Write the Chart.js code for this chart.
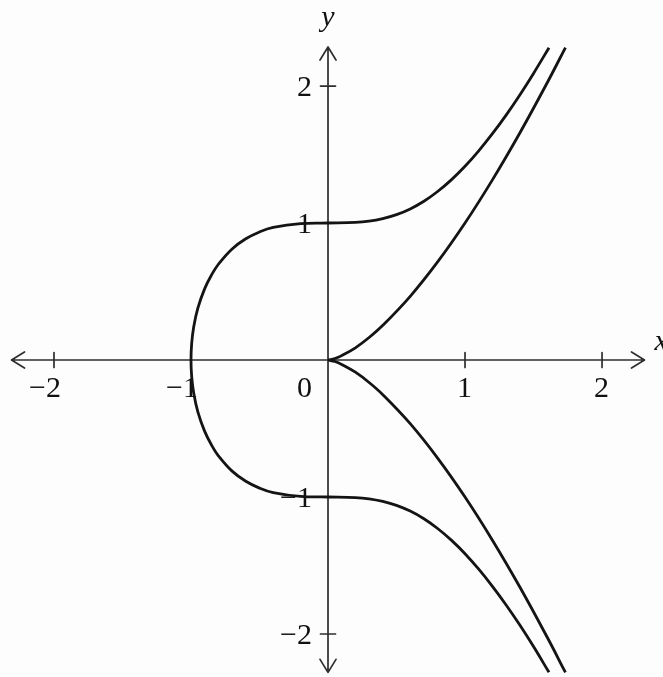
<!DOCTYPE html>
<html>
<head>
<meta charset="utf-8">
<title>Elliptic curves</title>
<script src="https://cdn.jsdelivr.net/npm/chart.js@4.4.1/dist/chart.umd.min.js"></script>
<style>
    html, body { margin: 0; padding: 0; background: #fdfdfd; }
    #chart { display: block; }
</style>
</head>
<body>
<canvas id="chart" width="663" height="677"></canvas>
<script>
// Outer curve through (-1, 0), (0, 1), (0, -1),
// lower branch first (right to left), then the upper branch (left to right)
const outerX = [1.613, 1.5, 1.4, 1.3, 1.2, 1.1, 1.0, 0.9, 0.8, 0.7, 0.6, 0.5, 0.4, 0.3, 0.2, 0.0,
    -0.2, -0.4, -0.5, -0.6, -0.7, -0.8, -0.85, -0.9, -0.95, -0.98, -0.995, -1.0,
    -0.995, -0.98, -0.95, -0.9, -0.85, -0.8, -0.7, -0.6, -0.5, -0.4, -0.2,
    0.0, 0.2, 0.3, 0.4, 0.5, 0.6, 0.7, 0.8, 0.9, 1.0, 1.1, 1.2, 1.3, 1.4, 1.5, 1.613];
const outerY = [-2.280, -2.092, -1.935, -1.788, -1.652, -1.527, -1.414, -1.315, -1.230, -1.159, -1.103, -1.061, -1.032, -1.013, -1.004, -1.000,
    -0.996, -0.968, -0.935, -0.885, -0.811, -0.699, -0.621, -0.521, -0.378, -0.243, -0.122, 0.0,
    0.122, 0.243, 0.378, 0.521, 0.621, 0.699, 0.811, 0.885, 0.935, 0.968, 0.996,
    1.000, 1.004, 1.013, 1.032, 1.061, 1.103, 1.159, 1.230, 1.315, 1.414, 1.527, 1.652, 1.788, 1.935, 2.092, 2.280];

// Curve with the cusp at the origin, one array per branch
const cuspX = [0, 0.05, 0.1, 0.2, 0.3, 0.4, 0.6, 0.8, 1.0, 1.2, 1.4, 1.6, 1.733];
const cuspUpperY = [0, 0.011, 0.032, 0.089, 0.164, 0.253, 0.465, 0.716, 1.0, 1.315, 1.657, 2.024, 2.281];
const cuspLowerY = [0, -0.011, -0.032, -0.089, -0.164, -0.253, -0.465, -0.716, -1.0, -1.315, -1.657, -2.024, -2.281];

// Axis ticks and labels
const xTicks = [-2, -1, 1, 2];
const xTickLabels = ['\u22122', '\u22121', '1', '2'];
const yTicks = [2, 1, -1, -2];
const yTickLabels = ['2', '1', '\u22121', '\u22122'];
const xAxisEnds = [-2.31, 2.31];
const yAxisEnds = [-2.28, 2.285];

const serif = '"Liberation Serif", "Times New Roman", serif';

function toPoints(xs, ys) {
    return xs.map((x, i) => ({ x: x, y: ys[i] }));
}

// Draws the arrowed axes, crossing ticks and the serif labels
const axesPlugin = {
    id: 'arrowAxes',
    beforeDatasetsDraw(chart) {
        const ctx = chart.ctx;
        const sx = chart.scales.x;
        const sy = chart.scales.y;
        const x0 = sx.getPixelForValue(0);
        const y0 = sy.getPixelForValue(0);
        const left = sx.getPixelForValue(xAxisEnds[0]);
        const right = sx.getPixelForValue(xAxisEnds[1]);
        const top = sy.getPixelForValue(yAxisEnds[1]);
        const bottom = sy.getPixelForValue(yAxisEnds[0]);

        ctx.save();
        ctx.strokeStyle = '#2e2e2e';
        ctx.lineWidth = 1.7;
        ctx.lineCap = 'round';
        ctx.lineJoin = 'round';

        ctx.beginPath();
        ctx.moveTo(left, y0); ctx.lineTo(right, y0);
        ctx.moveTo(x0, top); ctx.lineTo(x0, bottom);
        // open arrow heads
        ctx.moveTo(left + 13, y0 - 8); ctx.lineTo(left, y0); ctx.lineTo(left + 13, y0 + 8);
        ctx.moveTo(right - 13, y0 - 8); ctx.lineTo(right, y0); ctx.lineTo(right - 13, y0 + 8);
        ctx.moveTo(x0 - 8, top + 13); ctx.lineTo(x0, top); ctx.lineTo(x0 + 8, top + 13);
        ctx.moveTo(x0 - 8, bottom - 13); ctx.lineTo(x0, bottom); ctx.lineTo(x0 + 8, bottom - 13);

        xTicks.forEach(v => {
            const px = sx.getPixelForValue(v);
            ctx.moveTo(px, y0 - 7.5); ctx.lineTo(px, y0 + 7.5);
        });
        yTicks.forEach(v => {
            const py = sy.getPixelForValue(v);
            ctx.moveTo(x0 - 7.5, py); ctx.lineTo(x0 + 7.5, py);
        });
        ctx.stroke();

        ctx.fillStyle = '#111';
        ctx.font = '30px ' + serif;
        ctx.textAlign = 'right';
        ctx.textBaseline = 'alphabetic';
        xTicks.forEach((v, i) => {
            ctx.fillText(xTickLabels[i], sx.getPixelForValue(v) + 7, y0 + 37);
        });
        yTicks.forEach((v, i) => {
            ctx.fillText(yTickLabels[i], x0 - 16, sy.getPixelForValue(v) + 10);
        });
        ctx.fillText('0', x0 - 16, y0 + 37);

        // axis names
        ctx.font = 'italic 30px ' + serif;
        ctx.textAlign = 'left';
        ctx.fillText('x', right + 10, y0 - 10);
        ctx.textAlign = 'center';
        ctx.fillText('y', x0, top - 21);
        ctx.restore();
    }
};

document.addEventListener('DOMContentLoaded', function() {
    const lineStyle = {
        showLine: true,
        borderColor: '#141414',
        borderWidth: 2.8,
        pointRadius: 0,
        tension: 0.4,
        fill: false
    };

    new Chart(document.getElementById('chart'), {
        type: 'scatter',
        data: {
            datasets: [
                Object.assign({ label: 'outer', data: toPoints(outerX, outerY) }, lineStyle),
                Object.assign({ label: 'cusp upper', data: toPoints(cuspX, cuspUpperY) }, lineStyle),
                Object.assign({ label: 'cusp lower', data: toPoints(cuspX, cuspLowerY) }, lineStyle)
            ]
        },
        options: {
            responsive: false,
            animation: false,
            layout: { padding: 0 },
            plugins: {
                legend: { display: false },
                tooltip: { enabled: false }
            },
            scales: {
                x: { type: 'linear', min: -2.394, max: 2.445, display: false },
                y: { type: 'linear', min: -2.314, max: 2.628, display: false }
            }
        },
        plugins: [axesPlugin]
    });
});
</script>
</body>
</html>
